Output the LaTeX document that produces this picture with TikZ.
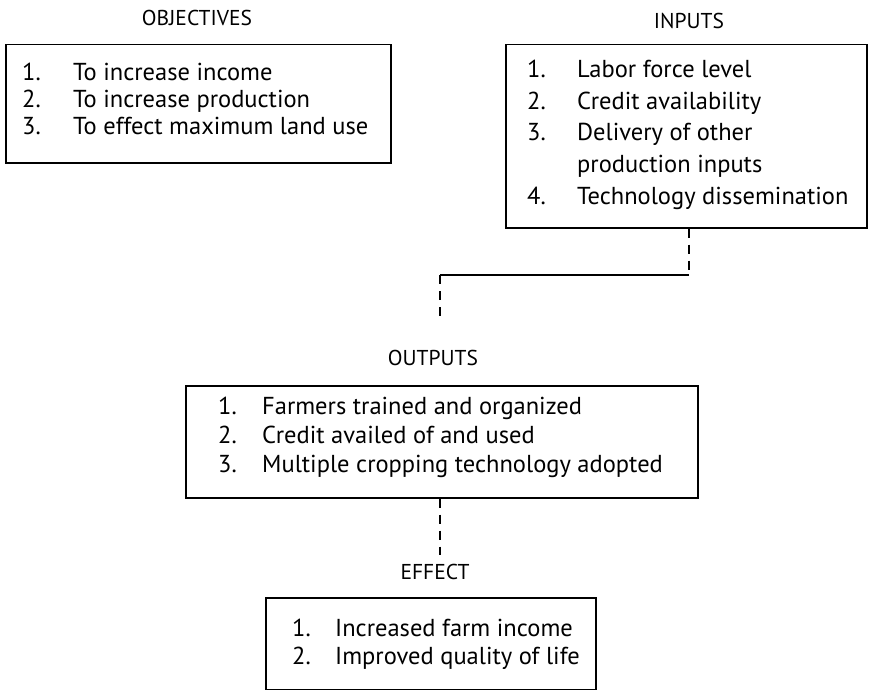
\documentclass[tikz,border=0pt]{standalone}
\usepackage{fontspec}
\setmainfont{PT Sans}
\usetikzlibrary{positioning}
\begin{document}
\begin{tikzpicture}[x=1pt,y=-1pt,
		box/.style={draw,line width=1.5pt,anchor=north west,inner sep=0pt},
		head/.style={font=\fontsize{21.5}{25}\selectfont,inner sep=0pt},
		item/.style={anchor=base west,font=\fontsize{24.5}{28}\selectfont,inner sep=0pt},
		link/.style={line width=1.5pt,dash pattern=on 9pt off 7pt}]
	\useasboundingbox (0,0) rectangle (870,690);
	\node[head](objt) at (197,18){OBJECTIVES};
	\node[head](inpt) at (689,21){INPUTS};
	\node[head](outt) at (433,358){OUTPUTS};
	\node[head](efft) at (435,572){EFFECT};
	\node[box,minimum width=385pt,minimum height=118pt](obj) at (5,44){};
	\node[box,minimum width=361pt,minimum height=183pt](inp) at (505,44){};
	\node[box,minimum width=512pt,minimum height=112pt](out) at (185,385){};
	\node[box,minimum width=330pt,minimum height=92pt](eff) at (265,597){};
	\foreach \t [count=\i] in {To increase income,To increase production,To effect maximum land use}
	{\node[item](objn\i) at (22,{54+27*\i}){\i.};
		\node[item](obj\i) at (73,{54+27*\i}){\t};}
	\foreach \n/\t [count=\i] in {1./Labor force level,2./Credit availability,3./Delivery of other,/production inputs,4./Technology dissemination}
	{\node[item](inpn\i) at (527,{46.5+31.5*\i}){\n};
		\node[item](inp\i) at (577,{46.5+31.5*\i}){\t};}
	\foreach \t [count=\i] in {Farmers trained and organized,Credit availed of and used,Multiple cropping technology adopted}
	{\node[item](outn\i) at (218,{385+29*\i}){\i.};
		\node[item](out\i) at (262,{385+29*\i}){\t};}
	\foreach \t [count=\i] in {Increased farm income,Improved quality of life}
	{\node[item](effn\i) at (292,{608+28*\i}){\i.};
		\node[item](eff\i) at (335,{608+28*\i}){\t};}
	\coordinate (bend1) at (689,275);
	\coordinate (bend2) at (440,275);
	\coordinate (outtop) at (440,322);
	\coordinate (efftop) at (440,555);
	\draw[link](bend1|-inp.south)--(bend1);
	\draw[line width=1.5pt](bend1)--(bend2);
	\draw[link](bend2)--(outtop);
	\draw[link](efftop|-out.south)--(efftop);
\end{tikzpicture}
\end{document}
